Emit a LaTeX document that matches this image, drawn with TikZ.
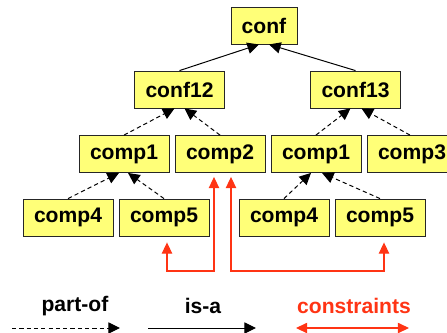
\documentclass[tikz,border=0pt]{standalone}
\usepackage{fontspec}
\setmainfont{Liberation Sans}
\usetikzlibrary{arrows.meta}

\definecolor{boxyellow}{RGB}{255,255,120}
\definecolor{consred}{RGB}{255,52,20}

\begin{document}
\begin{tikzpicture}[
  x=0.025cm, y=-0.025cm,
  font=\fontsize{15}{16}\selectfont\bfseries,
  box/.style={rectangle, draw=black!85, fill=boxyellow, line width=0.6pt,
              minimum width=2.25cm, minimum height=0.925cm, inner sep=0pt},
  isa/.style={-{Triangle[length=2.9mm,width=2.8mm]}, line width=0.7pt},
  partof/.style={isa, dash pattern=on 3pt off 2.2pt},
  cons/.style={{Triangle[length=2.8mm,width=2.6mm]}-{Triangle[length=2.8mm,width=2.6mm]},
               draw=consred, line width=0.75pt}
]
  \useasboundingbox (0,0) rectangle (447,332);
  \clip (0,0) rectangle (447,332);

  % tree
  \node[box, minimum width=1.65cm] (conf) at (264,25.5) {conf};
  \node[box] (conf12) at (179.5,89.5) {conf12};
  \node[box] (conf13) at (355.5,89.5) {conf13};
  \node[box] (c1l) at (124,154) {comp1};
  \node[box] (c2)  at (220,154) {comp2};
  \node[box] (c1r) at (316,154) {comp1};
  \node[box] (c3)  at (412,154) {comp3};
  \node[box] (c4l) at (68,217.5) {comp4};
  \node[box] (c5l) at (164,217.5) {comp5};
  \node[box] (c4r) at (284,217.5) {comp4};
  \node[box] (c5r) at (380,217.5) {comp5};

  % is-a
  \draw[isa] (conf12.north) -- ([shift={(-5,0)}]conf.south);
  \draw[isa] (conf13.north) -- ([shift={(5,0)}]conf.south);

  % part-of
  \draw[partof] (c1l.north) -- ([shift={(-5,0)}]conf12.south);
  \draw[partof] (c2.north)  -- ([shift={(5,0)}]conf12.south);
  \draw[partof] (c1r.north) -- ([shift={(-5,0)}]conf13.south);
  \draw[partof] ([shift={(-2,0)}]c3.north) -- ([shift={(6,0)}]conf13.south);
  \draw[partof] (c4l.north) -- ([shift={(-5,0)}]c1l.south);
  \draw[partof] (c5l.north) -- ([shift={(4,0)}]c1l.south);
  \draw[partof] (c4r.north) -- ([shift={(-5,0)}]c1r.south);
  \draw[partof] (c5r.north) -- ([shift={(6,0)}]c1r.south);

  % constraints
  \coordinate (low) at (0,271);
  \draw[cons] ([shift={(3,6)}]c5l.south) |- ([shift={(-6,0)}]c2.south |- low)
    -- ([shift={(-6,4)}]c2.south);
  \draw[cons] ([shift={(11,4)}]c2.south) |- ([shift={(4,0)}]c5r.south |- low)
    -- ([shift={(4,6)}]c5r.south);

  % legend
  \node (lpart) at (75,306) {part-of};
  \node (lisa)  at (203,306) {is-a};
  \node[text=consred] (lcons) at (354,306) {constraints};
  \coordinate (pa) at (12,328);  \coordinate (pb) at (120,328);
  \coordinate (ia) at (148,328); \coordinate (ib) at (256,328);
  \coordinate (ca) at (296,328); \coordinate (cb) at (409,328);
  \draw[partof] (pa) -- (pb);
  \draw[isa] (ia) -- (ib);
  \draw[cons] (ca) -- (cb);
\end{tikzpicture}
\end{document}
